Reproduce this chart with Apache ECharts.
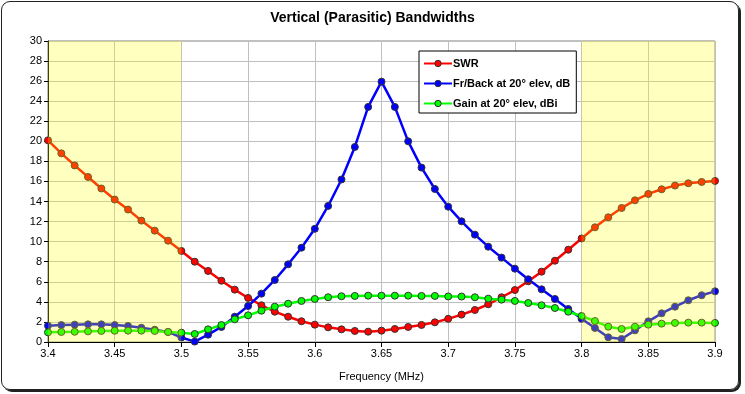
<!DOCTYPE html>
<html>
<head>
<meta charset="utf-8">
<script src="https://cdn.jsdelivr.net/npm/echarts@6/dist/echarts.min.js"></script>
<style>
html,body{margin:0;padding:0;background:#fff;}
#frame{position:absolute;left:1px;top:1px;width:736px;height:387px;border:1px solid #222;border-radius:9px;box-shadow:2px 2px 0 #222;}
#chart{position:absolute;left:0;top:0;width:745px;height:394px;}
</style>
</head>
<body>
<div id="frame"></div>
<div id="chart"></div>
<script>
const freq = [3.40,3.41,3.42,3.43,3.44,3.45,3.46,3.47,3.48,3.49,3.50,3.51,3.52,3.53,3.54,3.55,3.56,3.57,3.58,3.59,3.60,3.61,3.62,3.63,3.64,3.65,3.66,3.67,3.68,3.69,3.70,3.71,3.72,3.73,3.74,3.75,3.76,3.77,3.78,3.79,3.80,3.81,3.82,3.83,3.84,3.85,3.86,3.87,3.88,3.89,3.90];
const swr = [20.1,18.8,17.6,16.45,15.3,14.2,13.2,12.1,11.1,10.1,9.07,8.0,7.08,6.11,5.22,4.39,3.66,3.02,2.52,2.07,1.73,1.46,1.26,1.1,1.03,1.13,1.3,1.5,1.7,1.96,2.31,2.73,3.19,3.76,4.46,5.18,6.05,7.01,8.1,9.2,10.32,11.43,12.43,13.36,14.12,14.76,15.22,15.59,15.82,15.95,16.05];
const frBack = [1.63,1.69,1.73,1.76,1.76,1.69,1.6,1.42,1.22,1.0,0.45,0.04,0.73,1.5,2.52,3.59,4.82,6.18,7.74,9.4,11.28,13.56,16.2,19.44,23.43,25.95,23.43,20.0,17.38,15.25,13.49,12.03,10.7,9.5,8.41,7.31,6.25,5.25,4.29,3.29,2.31,1.4,0.47,0.3,1.16,2.06,2.86,3.52,4.16,4.66,5.05];
const gain = [0.96,1.0,1.02,1.06,1.1,1.12,1.13,1.13,1.1,1.0,0.93,0.8,1.26,1.69,2.26,2.66,3.12,3.52,3.82,4.09,4.29,4.46,4.56,4.59,4.62,4.62,4.62,4.62,4.59,4.59,4.54,4.53,4.46,4.32,4.22,4.09,3.89,3.66,3.39,3.02,2.59,2.09,1.53,1.3,1.53,1.73,1.83,1.9,1.93,1.93,1.9];
const seriesNames = ['SWR','Fr/Back at 20° elev, dB','Gain at 20° elev, dBi'];
const shadedBands = [[3.4,3.5],[3.8,3.9]];
const titleText = 'Vertical (Parasitic) Bandwidths';
const xName = 'Frequency (MHz)';

const font = 'Arial, "Liberation Sans", sans-serif';
const colors = ['#ff0000','#0000ff','#00ff00'];
const vals = [swr, frBack, gain];

function mk(i){
  return {
    name: seriesNames[i], type:'line', z: 2,
    data: freq.map((f,k)=>[f, vals[i][k]]),
    symbol:'circle', symbolSize:7,
    lineStyle:{color:colors[i], width:2.5},
    itemStyle:{color:colors[i], borderColor:'#333', borderWidth:1},
    emphasis:{disabled:true},
    animation:false
  };
}

const chart = echarts.init(document.getElementById('chart'), null, {renderer:'canvas'});
chart.setOption({
  backgroundColor:'transparent',
  animation:false,
  title:{text:titleText, left:'center', top:6, textStyle:{fontFamily:font, fontSize:14, fontWeight:'bold', color:'#000'}},
  grid:{left:48, right:30, top:41, bottom:52, show:true, borderColor:'#808080', borderWidth:1, backgroundColor:'#fff'},
  legend:{
    data:seriesNames, orient:'vertical', left:419, top:51,
    backgroundColor:'#fff', borderColor:'#000', borderWidth:1, borderRadius:0,
    padding:[6,6,3,4], itemGap:7, itemWidth:28, itemHeight:8,
    itemStyle:{borderWidth:1},
    textStyle:{fontFamily:font, fontSize:11, fontWeight:'bold', color:'#000', padding:[0,0,0,-4], lineHeight:13}
  },
  xAxis:{
    type:'value', min:3.4, max:3.9, interval:0.05,
    name:xName, nameLocation:'middle', nameGap:29,
    nameTextStyle:{fontFamily:font, fontSize:11, color:'#000'},
    axisLine:{show:true, onZero:false, lineStyle:{color:'#000', width:1}},
    axisTick:{show:true, length:5, lineStyle:{color:'#000'}},
    axisLabel:{fontFamily:font, fontSize:11, color:'#000', margin:6, formatter:v=>String(+v.toFixed(2))},
    splitLine:{show:true, lineStyle:{color:'#c0c0c0', width:1}}
  },
  yAxis:{
    type:'value', min:0, max:30, interval:2,
    axisLine:{show:true, lineStyle:{color:'#000', width:1}},
    axisTick:{show:true, length:4, lineStyle:{color:'#000'}},
    axisLabel:{fontFamily:font, fontSize:11, color:'#000', margin:6},
    splitLine:{show:true, lineStyle:{color:'#c0c0c0', width:1}}
  },
  series:[
    mk(0), mk(1), mk(2),
    {
      name:'bands', type:'line', data:[], z:10, silent:true,
      markArea:{silent:true, z:10, itemStyle:{color:'rgba(255,255,0,0.25)'}, label:{show:false},
        data: shadedBands.map(b=>[{xAxis:b[0]},{xAxis:b[1]}])}
    }
  ]
});
</script>
</body>
</html>
